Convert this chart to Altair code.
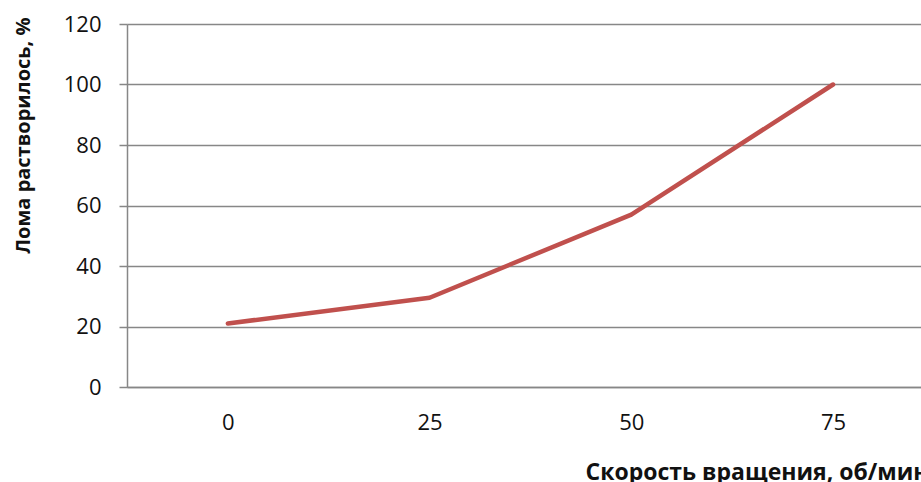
import altair as alt
import pandas as pd

speed = [0, 25, 50, 75]
dissolved = [21, 29.5, 57, 100]
y_ticks = [0, 20, 40, 60, 80, 100, 120]

df = pd.DataFrame({"speed": speed, "dissolved": dissolved})

GRAY = "#878787"
TXT = "#111111"

chart = (
    alt.Chart(df)
    .mark_line(color="#C0504D", strokeWidth=4.5, strokeCap="round", strokeJoin="round")
    .encode(
        x=alt.X(
            "speed:Q",
            scale=alt.Scale(domain=[-12.5, 85.9], nice=False, zero=False),
            axis=alt.Axis(
                values=speed,
                grid=False,
                ticks=False,
                domainColor=GRAY,
                domainWidth=1.5,
                labelFont="Open Sans",
                labelFontSize=22,
                labelColor=TXT,
                labelPadding=25,
                title="Скорость вращения, об/мин",
                titleFont="Open Sans",
                titleFontSize=23,
                titleFontWeight="bold",
                titleColor=TXT,
                titleAlign="left",
                titleBaseline="alphabetic",
                titleX=458,
                titleY=92,
            ),
        ),
        y=alt.Y(
            "dissolved:Q",
            scale=alt.Scale(domain=[0, 120], nice=False),
            axis=alt.Axis(
                values=y_ticks,
                grid=True,
                gridColor=GRAY,
                gridWidth=1.5,
                tickColor=GRAY,
                tickWidth=1.5,
                tickSize=8,
                domainColor=GRAY,
                domainWidth=1.5,
                labelFont="Open Sans",
                labelFontSize=22,
                labelColor=TXT,
                labelPadding=18,
                title="Лома растворилось, %",
                titleFont="Open Sans",
                titleFontSize=20,
                titleFontWeight="bold",
                titleColor=TXT,
                titleAngle=270,
                titleAlign="right",
                titleBaseline="middle",
                titleX=-104,
                titleY=-7,
            ),
        ),
    )
    .properties(
        width=794,
        height=363,
        autosize=alt.AutoSizeParams(type="none"),
        padding={"left": 127, "top": 24, "right": 0, "bottom": 95},
    )
    .configure_view(stroke=None)
    .configure(background="white")
)

chart.save("out.html", embed_options={"renderer": "svg", "actions": False})
